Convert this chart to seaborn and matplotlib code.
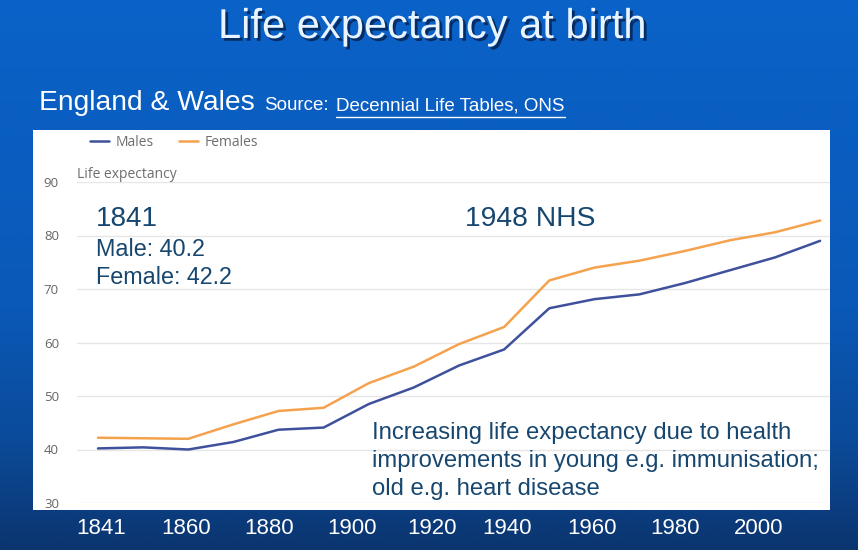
import numpy as np
import pandas as pd
import matplotlib
matplotlib.use('Agg')
import matplotlib.pyplot as plt
import matplotlib.patheffects as pe
from matplotlib.colors import LinearSegmentedColormap
from matplotlib.patches import Rectangle
import seaborn as sns

# decennial life tables, England & Wales (no 1941 census)
years = ['1841', '1851', '1861', '1871', '1881', '1891', '1901', '1911', '1921',
         '1931', '1951', '1961', '1971', '1981', '1991', '2001', '2011']
males = [40.2, 40.4, 40.0, 41.4, 43.7, 44.1, 48.5, 51.6, 55.7, 58.7,
         66.4, 68.1, 69.0, 71.1, 73.5, 75.9, 79.0]
females = [42.2, 42.1, 42.0, 44.7, 47.2, 47.8, 52.4, 55.5, 59.7, 62.9,
           71.6, 74.0, 75.3, 77.1, 79.1, 80.6, 82.8]

# year labels overlaid on the slide under the chart
tick_labels = ['1841', '1860', '1880', '1900', '1920', '1940', '1960', '1980', '2000']
tick_pos = [0.08, 1.95, 3.78, 5.62, 7.40, 9.07, 10.94, 12.79, 14.63]

df = pd.DataFrame({
    'idx': list(range(len(years))) * 2,
    'year': years * 2,
    'life': males + females,
    'sex': ['Males'] * len(years) + ['Females'] * len(years),
})

sns.set_style('white')
plt.rcParams['font.family'] = ['Liberation Sans', 'DejaVu Sans']

W, H = 858, 550
def fx(x):
    return x / W
def fy(y):
    return 1 - y / H

fig = plt.figure(figsize=(W / 100, H / 100), dpi=100)

# slide background
bg = fig.add_axes([0, 0, 1, 1])
cmap = LinearSegmentedColormap.from_list('slide', [(0, '#0a62c8'), (0.55, '#0a59b8'), (0.8, '#0b4b9a'), (1, '#0b356f')])
grad = np.linspace(0, 1, 256).reshape(-1, 1)
bg.imshow(grad, aspect='auto', cmap=cmap, extent=[0, 1, 0, 1], origin='upper')
bg.set_xlim(0, 1)
bg.set_ylim(0, 1)
bg.axis('off')
bg.add_patch(Rectangle((fx(33), fy(510)), (830 - 33) / W, (510 - 130) / H,
                       transform=fig.transFigure, facecolor='white', edgecolor='none'))

ax = fig.add_axes([fx(77), fy(503), (830 - 77) / W, (503 - 182) / H])
ax.set_facecolor('none')
sns.lineplot(data=df, x='idx', y='life', hue='sex', palette={'Males': '#3f519c', 'Females': '#f4a24e'},
             linewidth=1.8, ax=ax)

ax.set_xlim(-0.465, 16.22)
ax.set_ylim(30, 90)
ax.set_yticks(range(30, 91, 10))
ax.yaxis.grid(True, color='#e6e6e6', linewidth=1)
ax.xaxis.grid(False)
for s in ax.spines.values():
    s.set_visible(False)
ax.tick_params(axis='y', length=0, pad=13, labelsize=9.5, labelcolor='#666666')
for lab in ax.get_yticklabels():
    lab.set_fontfamily('Open Sans')
ax.set_xticks(range(len(years)), minor=True)
ax.tick_params(axis='x', which='minor', length=5, width=1, color='#ccd6eb', direction='out')
ax.set_xticks(tick_pos)
ax.set_xticklabels(tick_labels)
ax.tick_params(axis='x', which='major', length=0, pad=11, labelsize=16, labelcolor='white')
ax.set_xlabel('')
ax.set_ylabel('')

ax.legend(loc='center left', bbox_to_anchor=(fx(90), fy(142)), bbox_transform=fig.transFigure,
          ncol=2, frameon=False, handlelength=1.4, handletextpad=0.45, columnspacing=1.8,
          borderpad=0, borderaxespad=0, prop={'family': 'Open Sans', 'size': 10}, labelcolor='#6e6e6e')

fig.text(fx(77), fy(178), 'Life expectancy', family='Open Sans', fontsize=10, color='#6e6e6e', va='baseline')

# annotations inside the chart
note = '#17476f'
fig.text(fx(96), fy(226), '1841', fontsize=20, color=note, va='baseline')
fig.text(fx(96), fy(256), 'Male: 40.2', fontsize=16.8, color=note, va='baseline')
fig.text(fx(96), fy(283.5), 'Female: 42.2', fontsize=16.8, color=note, va='baseline')
fig.text(fx(465), fy(226), '1948 NHS', fontsize=20.3, color=note, va='baseline')
bottom_lines = ['Increasing life expectancy due to health',
                'improvements in young e.g. immunisation;',
                'old e.g. heart disease']
for line, yb in zip(bottom_lines, [438.5, 466.5, 494.5]):
    fig.text(fx(372), fy(yb), line, fontsize=17.2, color=note, va='baseline')

# slide title and subtitle
fig.text(fx(432), fy(38), 'Life expectancy at birth', fontsize=30, color='#e8f4ff', ha='center', va='baseline',
         path_effects=[pe.withSimplePatchShadow(offset=(2, -2), shadow_rgbFace='#06204a', alpha=0.8)])
fig.text(fx(39), fy(110.5), 'England & Wales', fontsize=20.3, color='white', va='baseline')
fig.text(fx(264), fy(110.5), 'Source:', fontsize=13.5, color='white', va='baseline')
src = fig.text(fx(336), fy(110.5), 'Decennial Life Tables, ONS', fontsize=13.5, color='white', va='baseline')

fig.canvas.draw()
bb = src.get_window_extent()
bg.plot([bb.x0 / W, bb.x1 / W], [fy(116.5), fy(116.5)], color='white', linewidth=1, transform=fig.transFigure)

fig.savefig('out.png', dpi=100)
